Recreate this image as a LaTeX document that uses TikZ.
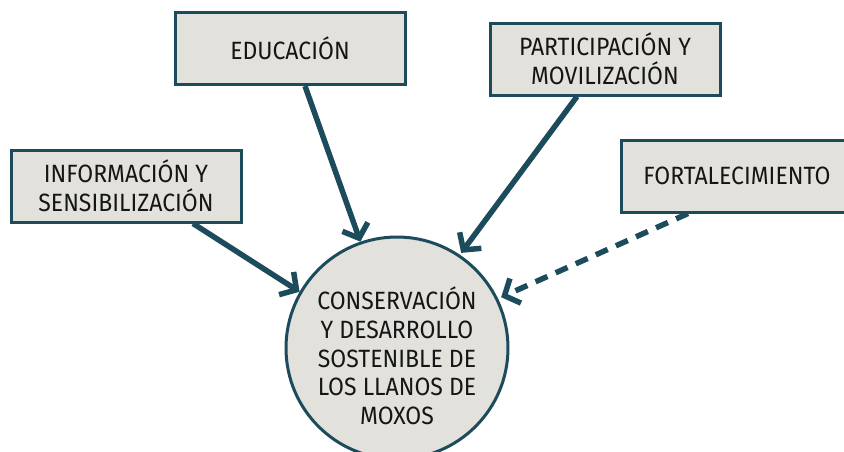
\documentclass[tikz,border=0pt]{standalone}
\usepackage{fontspec}
\setmainfont[FakeStretch=0.92]{Fira Sans}
\usetikzlibrary{arrows.meta,calc}
\definecolor{teal}{HTML}{1C4B5B}
\definecolor{boxfill}{HTML}{E2E1DC}
\definecolor{txt}{HTML}{151515}
\begin{document}
\begin{tikzpicture}[x=1pt,y=-1pt,
  box/.style={draw=teal,line width=3pt,fill=boxfill,minimum width=230pt,minimum height=72pt,
    align=center,text=txt,font=\fontsize{25}{29}\selectfont,inner sep=0pt},
  hub/.style={circle,draw=teal,line width=3pt,fill=boxfill,minimum size=222pt,
    text=txt,font=\fontsize{25}{28.7}\selectfont,inner sep=0pt},
  arr/.style={draw=teal,line width=5.5pt,-{Straight Barb[length=12pt,width=27pt,line width=5.5pt]}},
  dasharr/.style={arr,dash pattern=on 13pt off 9pt}]
\useasboundingbox (0,0) rectangle (844,451);
\clip (0,0) rectangle (844,451);
\node[box] (edu) at (290,48.5) {EDUCACIÓN};
\node[box] (part) at (605,59) {PARTICIPACIÓN Y\\MOVILIZACIÓN};
\node[box] (info) at (126,186) {INFORMACIÓN Y\\SENSIBILIZACIÓN};
\node[box,minimum width=232pt] (fort) at (737,176) {FORTALECIMIENTO};
\node[hub] (hub) at (397,348) {\raisebox{-12pt}[\height][\depth]{\begin{tabular}{@{}c@{}}CONSERVACIÓN\\Y DESARROLLO\\SOSTENIBLE DE\\LOS LLANOS DE\\MOXOS\end{tabular}}};
\draw[arr] ([xshift=15pt]edu.south) -- (hub.109);
\draw[arr] ([xshift=-28pt]part.south) -- ($(hub.center)!1.02!(hub.56)$);
\draw[arr] ([xshift=67pt]info.south) -- (hub.150);
\draw[dasharr] ([xshift=-49pt]fort.south) -- ($(hub.center)!1.03!(hub.26)$);
\end{tikzpicture}
\end{document}
